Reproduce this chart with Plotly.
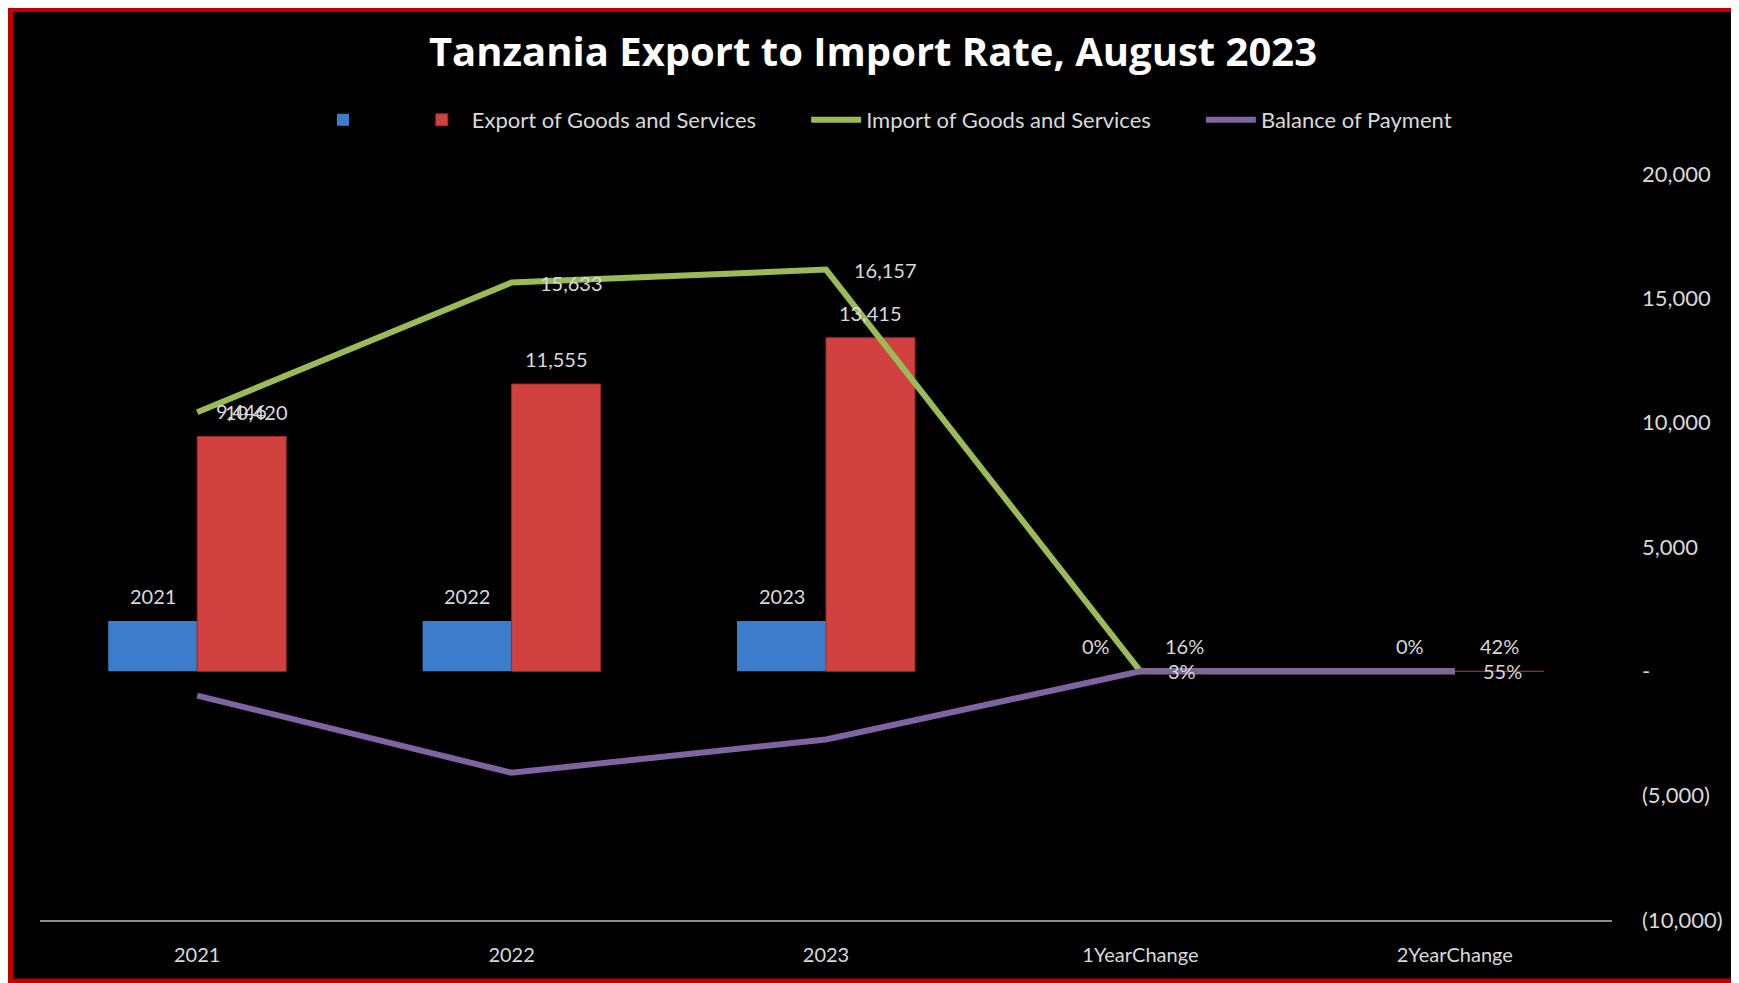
import plotly.graph_objects as go

categories = ['2021', '2022', '2023', '1YearChange', '2YearChange']
year_values = [2021, 2022, 2023, 0, 0]
year_labels = ['2021', '2022', '2023', '0%', '0%']
export_values = [9446, 11555, 13415, 0.16, 0.42]
export_labels = ['9,446', '11,555', '13,415', '16%', '42%']
import_values = [10420, 15633, 16157, 0.03, 0.55]
import_labels = ['10,420', '15,633', '16,157', '3%', '55%']
balance_values = [-974, -4078, -2742, 0.13, -0.13]

y_ticks = [20000, 15000, 10000, 5000, 0, -5000, -10000]
y_tick_text = ['20,000', '15,000', '10,000', '5,000', '-', '(5,000)', '(10,000)']

# the page body has an 8px margin, so the figure is placed at (8, 8)
OFF = 8
W, H = 1739 - OFF, 983 - OFF
ML, MR, MT, MB = 40 - OFF, 127, 174 - OFF, 63
BARGAP = 0.434
txt = '#D9D9D9'
font = 'Lato'
pad = '\u00a0' * 8

bar_w = (1 - BARGAP) * (W - ML - MR) / len(categories) / 2


def px_x(p):
    return (p - ML) / (W - ML - MR)


def px_y(p):
    return (H - MB - p) / (H - MT - MB)


fig = go.Figure()
fig.add_bar(x=categories, y=year_values, name='\u00a0' * 6,
            marker=dict(color='#3C7CCB', line=dict(width=0)))
fig.add_bar(x=categories, y=export_values,
            name='Export of Goods and Services' + pad,
            marker=dict(color='#D0413F', line=dict(color='#9E2B29', width=1)))
fig.add_scatter(x=categories, y=import_values, mode='lines',
                name='Import of Goods and Services' + pad,
                line=dict(color='#9BBB59', width=6))
fig.add_scatter(x=categories, y=balance_values, mode='lines',
                name='Balance of Payment',
                line=dict(color='#8064A2', width=6))

lab_font = dict(color=txt, size=20, family=font)

# bar labels above each bar (x given as category index so '2021' is not read as a number)
for i, (v, t) in enumerate(zip(year_values, year_labels)):
    fig.add_annotation(x=i, y=v, text=t, showarrow=False, xanchor='center',
                       yanchor='middle', xshift=-bar_w / 2, yshift=25,
                       font=lab_font)
for i, (v, t) in enumerate(zip(export_values, export_labels)):
    fig.add_annotation(x=i, y=v, text=t, showarrow=False, xanchor='center',
                       yanchor='middle', xshift=bar_w / 2, yshift=25,
                       font=lab_font)

# labels for the import line sit to the right of each point
for i, (v, t) in enumerate(zip(import_values, import_labels)):
    fig.add_annotation(x=i, y=v, text=t, showarrow=False, xanchor='left',
                       yanchor='middle', xshift=26, yshift=0,
                       font=lab_font)

# red frame round the whole chart
fig.add_shape(type='rect', xref='paper', yref='paper',
              x0=px_x(2.5), x1=px_x(W - 2), y0=px_y(H - 2), y1=px_y(1.5),
              line=dict(color='#C00000', width=5), layer='below')

fig.update_layout(
    width=W, height=H,
    margin=dict(l=ML, r=MR, t=MT, b=MB),
    paper_bgcolor='black', plot_bgcolor='black',
    barmode='group', bargap=BARGAP, bargroupgap=0,
    font=dict(family=font, color=txt, size=20),
    title=dict(text='<b>Tanzania Export to Import Rate, August 2023</b>',
               x=(873 - OFF) / W, xref='container', xanchor='center',
               y=1 - (52 - OFF) / H, yref='container', yanchor='middle',
               font=dict(family='Open Sans', size=40, color='white')),
    legend=dict(orientation='h', xref='container', yref='container',
                x=(313 - OFF) / W, xanchor='left',
                y=1 - (120 - OFF) / H, yanchor='middle',
                font=dict(size=22, color=txt), bgcolor='rgba(0,0,0,0)',
                itemwidth=50, traceorder='normal'),
    showlegend=True,
)
fig.update_xaxes(type='category', range=[-0.5, len(categories) - 0.5],
                 showline=True, linecolor='#8C8C8C',
                 linewidth=2, showgrid=False, zeroline=False, ticks='',
                 ticklabelstandoff=16,
                 tickfont=dict(size=20, color=txt, family=font))
fig.update_yaxes(side='right', range=[-10000, 20000], tickvals=y_ticks,
                 ticktext=y_tick_text, showgrid=False, zeroline=False,
                 showline=False, ticks='', ticklabelstandoff=29,
                 tickfont=dict(size=22, color=txt, family=font))

fig.write_html('out.html')
